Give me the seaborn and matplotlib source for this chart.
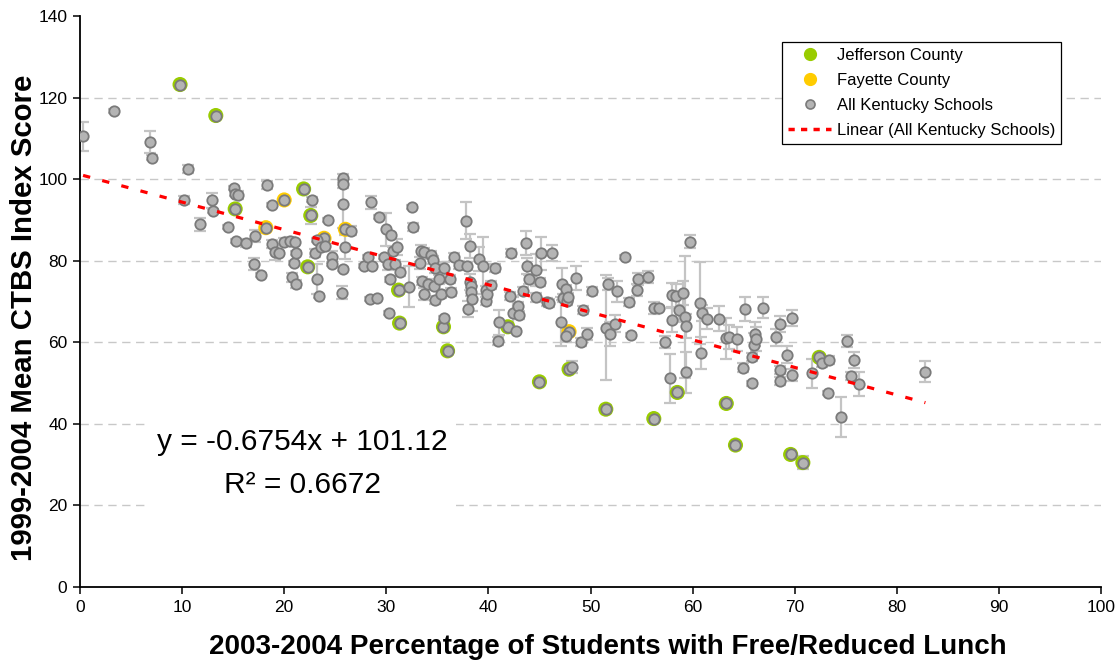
import numpy as np
import pandas as pd
import matplotlib
matplotlib.use("Agg")
import matplotlib.pyplot as plt
import seaborn as sns
from matplotlib.lines import Line2D

# Jefferson County schools: % free/reduced lunch, mean CTBS index, error half-width
jefferson_x = [9.8, 13.3, 15.2, 21.9, 22.3, 22.6, 31.2, 31.3, 35.6, 36.0, 41.9,
               45.0, 47.9, 51.5, 56.2, 58.5, 63.3, 64.2, 69.6, 70.8, 72.4]
jefferson_y = [123.2, 115.6, 92.7, 97.6, 78.5, 91.1, 72.8, 64.7, 63.8, 57.9, 63.8,
               50.3, 53.4, 43.6, 41.3, 47.7, 45.0, 34.8, 32.5, 30.5, 56.3]
jefferson_err = [0.5, 0.5, 0.5, 0.5, 0.5, 2.0, 0.5, 0.5, 0.5, 0.5, 0.5,
                 0.5, 0.5, 1.0, 0.5, 0.5, 0.5, 0.5, 0.5, 1.5, 0.5]

# Fayette County schools
fayette_x = [18.2, 20.0, 23.9, 26.0, 47.9]
fayette_y = [88.1, 94.9, 85.5, 87.7, 62.6]
fayette_err = [0.5, 0.5, 0.5, 0.5, 0.5]

# Remaining Kentucky schools
other_x = [0.3, 3.3, 6.9, 7.1, 10.2, 10.6, 11.8, 12.9, 13.0, 14.5, 15.1, 15.2, 15.5,
           15.3, 16.3, 17.0, 17.1, 17.7, 18.3, 18.8, 18.8, 19.1, 19.5, 20.0, 20.6,
           20.8, 21.0, 21.1, 21.2, 21.2, 22.7, 23.0, 23.2, 23.2, 23.4, 23.6, 24.0,
           24.3, 24.7, 24.7, 25.7, 25.8, 25.8, 25.8, 25.8, 26.0, 26.5, 27.8, 28.2,
           28.4, 28.5, 28.6, 29.1, 29.3, 29.8, 30.0, 30.2, 30.3, 30.4, 30.5, 30.7,
           30.9, 31.0, 31.3, 32.2, 32.5, 32.6, 33.3, 33.4, 33.5, 33.7, 33.7, 34.1,
           34.4, 34.6, 34.7, 34.8, 34.8, 35.2, 35.4, 35.7, 35.7, 36.2, 36.3, 36.6,
           37.1, 37.8, 37.9, 38.0, 38.2, 38.2, 38.3, 38.3, 38.4, 39.1, 39.5, 39.8,
           39.8, 39.9, 40.3, 40.6, 40.9, 41.0, 42.1, 42.2, 42.4, 42.7, 42.9, 43.0,
           43.4, 43.7, 43.8, 44.0, 44.7, 44.7, 45.1, 45.2, 45.7, 45.9, 46.2, 47.1,
           47.2, 47.3, 47.6, 47.6, 47.7, 47.8, 48.2, 48.6, 49.1, 49.3, 49.7, 50.1,
           51.5, 51.7, 51.9, 52.4, 52.6, 53.4, 53.8, 54.0, 54.6, 54.7, 55.6, 56.2,
           56.7, 57.3, 57.8, 58.0, 58.0, 58.4, 58.7, 59.1, 59.3, 59.4, 59.4, 59.7,
           60.7, 60.8, 60.9, 61.4, 62.6, 63.3, 63.6, 64.3, 64.9, 65.1, 65.8, 65.8,
           66.0, 66.1, 66.2, 66.9, 68.2, 68.6, 68.6, 68.6, 69.2, 69.7, 69.7, 71.7,
           72.7, 73.3, 73.4, 74.5, 75.1, 75.5, 75.8, 76.3, 82.8]
other_y = [110.5, 116.6, 109.1, 105.3, 94.8, 102.5, 88.9, 94.8, 92.2, 88.3, 97.8, 96.3, 96.2,
           84.9, 84.4, 79.2, 86.0, 76.4, 98.5, 93.6, 84.2, 82.2, 82.0, 84.6, 84.9,
           75.9, 79.5, 84.7, 81.9, 74.3, 95.0, 81.9, 85.0, 75.6, 71.4, 83.4, 83.7,
           90.0, 81.0, 79.2, 72.2, 100.3, 98.8, 94.0, 77.9, 83.3, 87.4, 78.6, 80.8,
           70.6, 94.3, 78.6, 70.9, 90.8, 80.8, 87.7, 79.3, 67.2, 75.4, 86.3, 82.4,
           79.1, 83.3, 77.3, 73.6, 93.2, 88.2, 79.5, 82.4, 75.1, 82.2, 71.8, 74.4,
           81.4, 80.1, 73.8, 78.1, 70.3, 75.4, 71.8, 78.1, 65.9, 75.5, 72.4, 81.0,
           78.9, 89.8, 78.8, 68.1, 83.6, 74.8, 73.8, 72.4, 70.7, 80.4, 78.8, 72.8,
           70.2, 71.8, 74.0, 78.3, 60.3, 64.9, 71.3, 81.9, 67.1, 62.7, 68.9, 66.7,
           72.5, 84.4, 78.7, 75.4, 77.7, 71.0, 74.7, 81.8, 69.9, 69.7, 81.9, 65.0,
           74.3, 70.8, 73.0, 61.6, 70.1, 71.2, 54.0, 75.7, 60.1, 67.9, 62.0, 72.5,
           63.6, 74.2, 62.0, 64.6, 72.5, 81.0, 69.9, 61.8, 72.8, 75.5, 76.1, 68.5,
           68.3, 60.0, 51.2, 65.4, 71.6, 71.3, 67.9, 72.1, 66.2, 64.0, 52.6, 84.7,
           69.7, 57.4, 67.1, 65.8, 65.8, 61.0, 61.3, 60.8, 53.8, 68.2, 56.4, 49.9,
           59.3, 62.0, 60.8, 68.5, 61.2, 64.5, 53.2, 50.6, 57.0, 66.0, 52.0, 52.4,
           55.0, 47.5, 55.6, 41.7, 60.3, 51.7, 55.6, 49.8, 52.8]
other_err = [3.5, 0.5, 2.8, 0.5, 1.0, 1.0, 1.5, 1.8, 0.5, 0.5, 0.5, 0.5, 1.0,
             0.5, 1.0, 1.5, 1.5, 0.5, 1.0, 0.5, 1.0, 2.0, 0.5, 1.0, 1.0,
             1.0, 0.5, 0.5, 0.5, 1.0, 0.5, 1.0, 0.5, 3.7, 0.5, 0.5, 0.5,
             0.5, 1.5, 0.5, 1.5, 1.0, 1.0, 6.0, 0.5, 3.0, 1.0, 0.5, 0.5,
             0.5, 1.5, 0.5, 0.5, 0.5, 0.5, 4.0, 1.5, 0.5, 0.5, 0.5, 1.0,
             1.0, 2.0, 1.0, 5.0, 0.5, 1.0, 1.5, 1.5, 1.0, 1.0, 1.5, 1.0,
             1.0, 1.0, 0.5, 1.0, 1.0, 1.0, 1.0, 1.5, 0.5, 1.0, 1.0, 1.0,
             1.0, 4.5, 1.0, 2.0, 3.0, 2.0, 1.0, 1.0, 3.0, 3.0, 7.0, 1.0,
             1.0, 1.0, 1.0, 1.0, 1.0, 3.0, 1.0, 1.0, 4.0, 0.5, 1.0, 1.0,
             1.0, 3.0, 2.0, 1.0, 4.0, 1.0, 1.0, 4.0, 1.0, 1.0, 2.0, 6.0,
             4.0, 1.0, 1.0, 1.5, 1.0, 1.0, 1.5, 3.0, 1.0, 1.0, 1.5, 1.0,
             12.9, 1.5, 3.0, 2.0, 2.5, 0.5, 1.0, 0.5, 1.5, 1.5, 1.5, 1.5,
             0.5, 1.5, 6.0, 3.0, 3.0, 3.0, 3.0, 3.0, 15.0, 3.0, 5.0, 1.5,
             10.0, 4.0, 2.0, 2.5, 3.0, 5.0, 3.0, 3.0, 1.0, 3.0, 1.0, 0.5,
             3.0, 3.0, 3.0, 2.5, 2.0, 2.0, 1.0, 1.0, 2.0, 2.0, 1.5, 3.5,
             1.0, 0.5, 1.0, 5.0, 1.5, 1.0, 2.0, 3.0, 2.5]

# Least-squares fit reported for all Kentucky schools
trend_slope = -0.6754
trend_intercept = 101.12
trend_r2 = 0.6672

x_ticks = list(range(0, 101, 10))
y_ticks = list(range(0, 141, 20))

schools = pd.concat([
    pd.DataFrame({"lunch": jefferson_x, "ctbs": jefferson_y, "err": jefferson_err,
                  "district": "Jefferson County"}),
    pd.DataFrame({"lunch": fayette_x, "ctbs": fayette_y, "err": fayette_err,
                  "district": "Fayette County"}),
    pd.DataFrame({"lunch": other_x, "ctbs": other_y, "err": other_err,
                  "district": "Other"}),
], ignore_index=True)

sns.set_theme(style="white")
plt.rcParams["font.family"] = ["Liberation Sans", "DejaVu Sans"]
plt.rcParams["text.color"] = "black"
plt.rcParams["axes.labelcolor"] = "black"

fig = plt.figure(figsize=(11.19, 6.61), dpi=100)
ax = fig.add_axes([80 / 1119, 74 / 661, 1021 / 1119, 571 / 661])

GRAY_FILL = "#b4b4b4"
GRAY_EDGE = "#7a7a7a"
GREEN = "#99cc00"
YELLOW = "#ffcc00"

# error bars behind the markers
ax.errorbar(schools["lunch"], schools["ctbs"], yerr=schools["err"], fmt="none",
            ecolor="#c4c4c4", elinewidth=1.6, capsize=4.5, capthick=1.6, zorder=1)

# county rings (larger colored disc under the gray marker)
sns.scatterplot(data=schools[schools["district"] == "Jefferson County"], x="lunch", y="ctbs",
                s=118, color=GREEN, edgecolor="none", ax=ax, zorder=2, legend=False)
sns.scatterplot(data=schools[schools["district"] == "Fayette County"], x="lunch", y="ctbs",
                s=118, color=YELLOW, edgecolor="none", ax=ax, zorder=2, legend=False)

# every school as a gray marker
sns.scatterplot(data=schools, x="lunch", y="ctbs", s=56, color=GRAY_FILL,
                edgecolor=GRAY_EDGE, linewidth=1.3, ax=ax, zorder=3, legend=False)

# linear trend across the range of the data
trend_x = np.array([schools["lunch"].min(), schools["lunch"].max()])
trend = pd.DataFrame({"lunch": trend_x, "ctbs": trend_slope * trend_x + trend_intercept})
sns.lineplot(data=trend, x="lunch", y="ctbs", color="#ff0000", linewidth=2.3,
             linestyle=(0, (2.3, 3.9)), ax=ax, zorder=4)

ax.set_xlim(0, 100)
ax.set_ylim(0, 140)
ax.set_xticks(x_ticks)
ax.set_yticks(y_ticks)
ax.tick_params(axis="both", direction="out", length=5, width=1.1, color="black",
               labelsize=12.5, labelcolor="black", left=True, bottom=True, pad=4)

sns.despine(ax=ax)
for side in ("left", "bottom"):
    ax.spines[side].set_color("black")
    ax.spines[side].set_linewidth(1.3)

ax.yaxis.grid(True, linestyle=(0, (6, 4)), color="#c8c8c8", linewidth=1.0)
ax.xaxis.grid(False)
ax.set_axisbelow(True)
grid_lines = ax.get_ygridlines()
grid_lines[0].set_visible(False)
grid_lines[-1].set_visible(False)

ax.set_xlabel("2003-2004 Percentage of Students with Free/Reduced Lunch",
              fontsize=20, fontweight="bold", color="black")
ax.set_ylabel("1999-2004 Mean CTBS Index Score", fontsize=21.2, fontweight="bold",
              color="black")
ax.xaxis.set_label_coords(0.517, -0.082)
ax.yaxis.set_label_coords(-0.041, 0.472)

sign = "-" if trend_slope < 0 else "+"
ax.text(21.8, 30.3,
        f"y = {sign}{abs(trend_slope):.4f}x + {trend_intercept:.2f}\nR\u00b2 = {trend_r2:.4f}",
        ha="center", va="center", multialignment="center", fontsize=21.5,
        linespacing=1.7, color="black", zorder=5,
        bbox=dict(facecolor="white", edgecolor="none", pad=6))

handles = [
    Line2D([], [], ls="none", marker="o", markersize=8.5, markerfacecolor=GREEN,
           markeredgecolor=GREEN),
    Line2D([], [], ls="none", marker="o", markersize=8.5, markerfacecolor=YELLOW,
           markeredgecolor=YELLOW),
    Line2D([], [], ls="none", marker="o", markersize=6.5, markerfacecolor=GRAY_FILL,
           markeredgecolor=GRAY_EDGE, markeredgewidth=1.2),
    Line2D([], [], color="#ff0000", linewidth=2.5, linestyle=(0, (1.8, 1.8))),
]
labels = ["Jefferson County", "Fayette County", "All Kentucky Schools",
          "Linear (All Kentucky Schools)"]
leg = ax.legend(handles, labels, loc="upper left", bbox_to_anchor=(0.6876, 0.9545),
                borderaxespad=0, frameon=True, fancybox=False, edgecolor="black",
                framealpha=1, fontsize=12, handlelength=2.6, handletextpad=0.35,
                labelspacing=0.6, borderpad=0.35)
leg.get_frame().set_linewidth(0.9)

fig.savefig("out.png", dpi=100)
